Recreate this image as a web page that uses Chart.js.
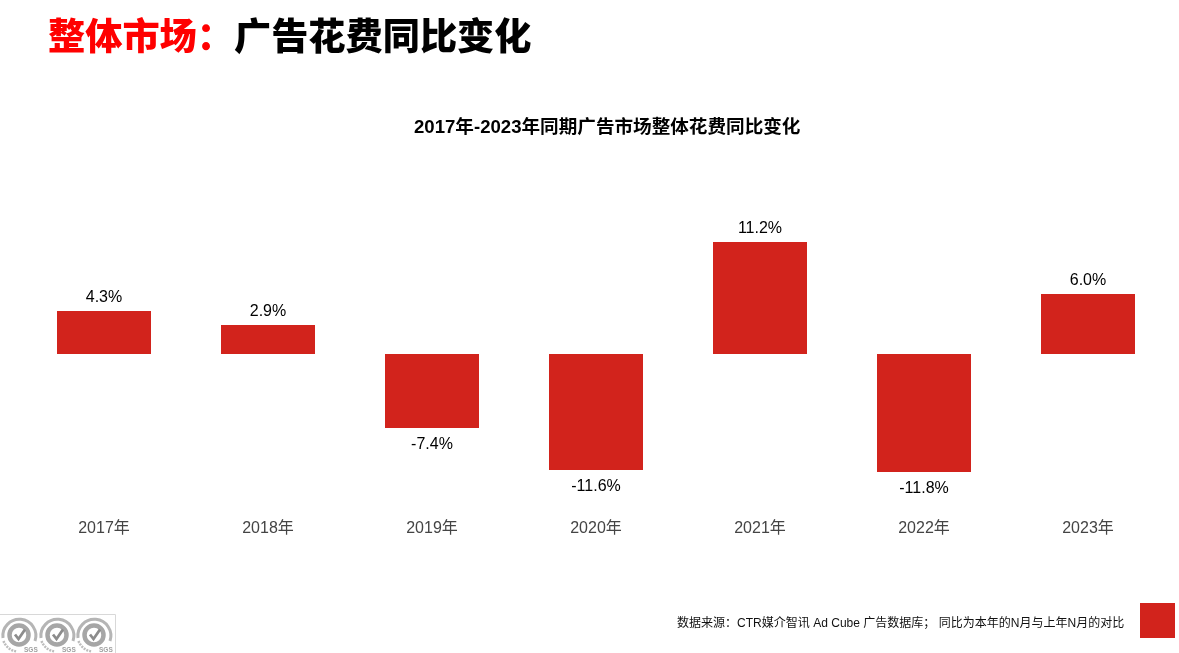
<!DOCTYPE html>
<html>
<head>
<meta charset="utf-8">
<script src="https://cdn.jsdelivr.net/npm/chart.js@4"></script>
<style>
  html, body { margin: 0; padding: 0; background: #fff; overflow: hidden; }
  body { position: relative; width: 1179px; height: 653px; font-family: "Liberation Sans", "Noto Sans CJK SC", sans-serif; }
  canvas { position: absolute; left: 0; top: 0; }
  .txt { position: absolute; white-space: nowrap; }
  #heading { left: 48px; top: 10px; font-size: 37.2px; line-height: 54px; font-weight: 900; color: #000; }
  #heading span { color: #ff0000; }
  #subtitle { left: 414px; top: 114px; font-size: 18.6px; line-height: 26px; font-weight: 700; color: #000; }
  #source { left: 677px; top: 614px; font-size: 12.03px; line-height: 18px; color: #111; }
  #square { position: absolute; left: 1140px; top: 603px; width: 35px; height: 35px; background: #d2231c; }
  #badges { position: absolute; left: 0; top: 614px; }
</style>
</head>
<body>
<canvas id="chart" width="1179" height="653"></canvas>
<div class="txt" id="heading"><span>整体市场：</span>广告花费同比变化</div>
<div class="txt" id="subtitle">2017年-2023年同期广告市场整体花费同比变化</div>
<div class="txt" id="source">数据来源：CTR媒介智讯 Ad Cube 广告数据库； 同比为本年的N月与上年N月的对比</div>
<div id="square"></div>
<svg id="badges" width="116" height="39" viewBox="0 0 116 39">
  <path d="M0 0.5H115.500V39" fill="none" stroke="#d8d8d8"/>
  <g id="badge" fill="none">
    <path d="M3 24 A16.500 16.500 0 1 1 35 27" stroke="#b5b5b5" stroke-width="3"/>
    <path d="M3.500 27 A16.500 16.500 0 0 0 17 37.500" stroke="#bdbdbd" stroke-width="2.500" stroke-dasharray="2 1"/>
    <circle cx="19" cy="21" r="9.500" stroke="#a6a6a6" stroke-width="4.500"/>
    <path d="M15 20.500 L18.500 25 L25 15.500" stroke="#8c8c8c" stroke-width="2.800"/>
    <text x="24" y="38" font-size="6.500" font-weight="700" fill="#a0a0a0">SGS</text>
  </g>
  <use href="#badge" x="38"/>
  <use href="#badge" x="75"/>
</svg>
<script>
const categories = ['2017年', '2018年', '2019年', '2020年', '2021年', '2022年', '2023年'];
const changeValues = [4.3, 2.9, -7.4, -11.6, 11.2, -11.8, 6.0];

// value labels just outside the end of each bar
const barLabels = {
    id: 'barLabels',
    afterDatasetsDraw(chart) {
        const ctx = chart.ctx;
        ctx.save();
        ctx.font = '16px "Liberation Sans", "Noto Sans CJK SC", sans-serif';
        ctx.fillStyle = '#000';
        ctx.textAlign = 'center';
        chart.getDatasetMeta(0).data.forEach((bar, i) => {
            const v = changeValues[i];
            ctx.textBaseline = v >= 0 ? 'bottom' : 'top';
            ctx.fillText(v.toFixed(1) + '%', bar.x, v >= 0 ? bar.y - 5 : bar.y + 9);
        });
        ctx.restore();
    }
};

new Chart(document.getElementById('chart').getContext('2d'), {
    type: 'bar',
    data: {
        labels: categories,
        datasets: [{
            data: changeValues,
            backgroundColor: '#d2231c',
            borderWidth: 0,
            categoryPercentage: 94 / 164,
            barPercentage: 1
        }]
    },
    options: {
        responsive: false,
        animation: false,
        layout: { padding: { left: 22, right: 9, top: 214, bottom: 0 } },
        plugins: { legend: { display: false }, title: { display: false }, tooltip: { enabled: false } },
        scales: {
            x: {
                grid: { display: false },
                border: { display: false },
                afterFit: (scale) => { scale.height = 139; },
                ticks: {
                    padding: -3,
                    maxRotation: 0,
                    color: '#444',
                    font: { size: 16, family: '"Liberation Sans", "Noto Sans CJK SC", sans-serif' }
                }
            },
            y: { display: false, min: -16, max: 14 }
        }
    },
    plugins: [barLabels]
});
</script>
</body>
</html>
